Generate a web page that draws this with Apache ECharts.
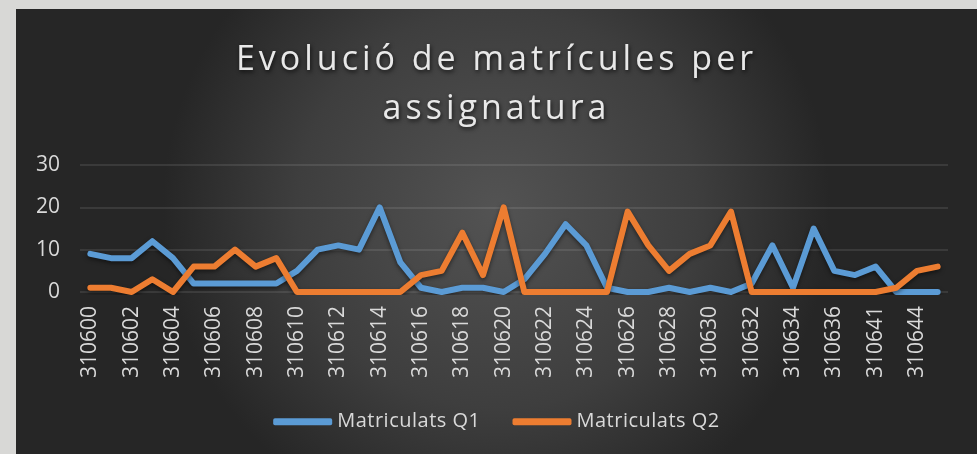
<!DOCTYPE html>
<html>
<head>
<meta charset="utf-8">
<script src="https://cdn.jsdelivr.net/npm/echarts@6/dist/echarts.min.js"></script>
<style>
html,body{margin:0;padding:0;background:#d8d8d6;width:977px;height:454px;overflow:hidden;}
#chart{position:absolute;left:16px;top:9px;width:961px;height:445px;}
</style>
</head>
<body>
<div id="chart"></div>
<script>
const categories = ['310600','310601','310602','310603','310604','310605','310606','310607','310608','310609',
  '310610','310611','310612','310613','310614','310615','310616','310617','310618','310619',
  '310620','310621','310622','310623','310624','310625','310626','310627','310628','310629',
  '310630','310631','310632','310633','310634','310635','310636','310638','310641','310643',
  '310644','310645'];
const q1 = [9,8,8,12,8,2,2,2,2,2, 5,10,11,10,20,7,1,0,1,1, 0,3,9,16,11,1,0,0,1,0, 1,0,2,11,1,15,5,4,6,0, 0,0];
const q2 = [1,1,0,3,0,6,6,10,6,8, 0,0,0,0,0,0,4,5,14,4, 20,0,0,0,0,0,19,11,5,9, 11,19,0,0,0,0,0,0,0,1, 5,6];
const seriesNames = ['Matriculats Q1','Matriculats Q2'];
const yTicks = {min:0,max:30,interval:10};

// wider letter spacing for the title, like the reference's spaced text
(function(){
  const proto = CanvasRenderingContext2D.prototype;
  const f = proto.fillText, m = proto.measureText, s = proto.strokeText;
  function sp(ctx){
    const r = /(\d+(?:\.\d+)?)px/.exec(ctx.font);
    const size = r ? parseFloat(r[1]) : 12;
    try { ctx.letterSpacing = size >= 30 ? '4px' : (size >= 19.5 && size < 20.5 ? '0.5px' : '0px'); } catch(e){}
  }
  proto.fillText = function(){ sp(this); return f.apply(this, arguments); };
  proto.strokeText = function(){ sp(this); return s.apply(this, arguments); };
  proto.measureText = function(){ sp(this); return m.apply(this, arguments); };
})();

const chart = echarts.init(document.getElementById('chart'));
const txt = '#d9d9d9';
const font = 'Open Sans, Lato, sans-serif';
chart.setOption({
  backgroundColor: {
    type:'radial', x:0.5, y:0.45, r:0.75,
    colorStops:[{offset:0,color:'#535353'},{offset:0.6,color:'#3e3e3e'},{offset:1,color:'#262626'}]
  },
  title:{
    text:'Evolució de matrícules per\nassignatura',
    left:'center', top:22,
    textStyle:{color:'#e8e8e8', fontSize:34, fontWeight:'normal', fontFamily:font, lineHeight:49,
      textShadowColor:'rgba(0,0,0,0.7)', textShadowBlur:4, textShadowOffsetX:1, textShadowOffsetY:2}
  },
  legend:{
    data:seriesNames, bottom:17, left:'center', itemWidth:59, itemHeight:7, itemGap:32,
    icon:'roundRect',
    textStyle:{color:txt, fontSize:20, fontFamily:font}
  },
  grid:{left:64, top:156, width:868, height:127, containLabel:false},
  xAxis:{
    type:'category', data:categories, boundaryGap:true,
    axisLine:{show:false}, axisTick:{show:false},
    axisLabel:{color:txt, fontSize:21, fontFamily:font, rotate:90, interval:1, margin:14}
  },
  yAxis:{
    type:'value', min:yTicks.min, max:yTicks.max, interval:yTicks.interval,
    axisLine:{show:false}, axisTick:{show:false},
    axisLabel:{color:txt, fontSize:21, fontFamily:font, margin:20},
    splitLine:{lineStyle:{color:'rgba(255,255,255,0.13)', width:1.5}}
  },
  series:[
    {name:seriesNames[0], type:'line', data:q1, symbol:'none', color:'#5b9bd5',
     lineStyle:{width:6, color:'#5b9bd5', cap:'round', join:'round', shadowColor:'rgba(0,0,0,0.5)', shadowBlur:4, shadowOffsetY:2}},
    {name:seriesNames[1], type:'line', data:q2, symbol:'none', color:'#ed7d31',
     lineStyle:{width:6, color:'#ed7d31', cap:'round', join:'round', shadowColor:'rgba(0,0,0,0.5)', shadowBlur:4, shadowOffsetY:2}}
  ]
});
</script>
</body>
</html>
